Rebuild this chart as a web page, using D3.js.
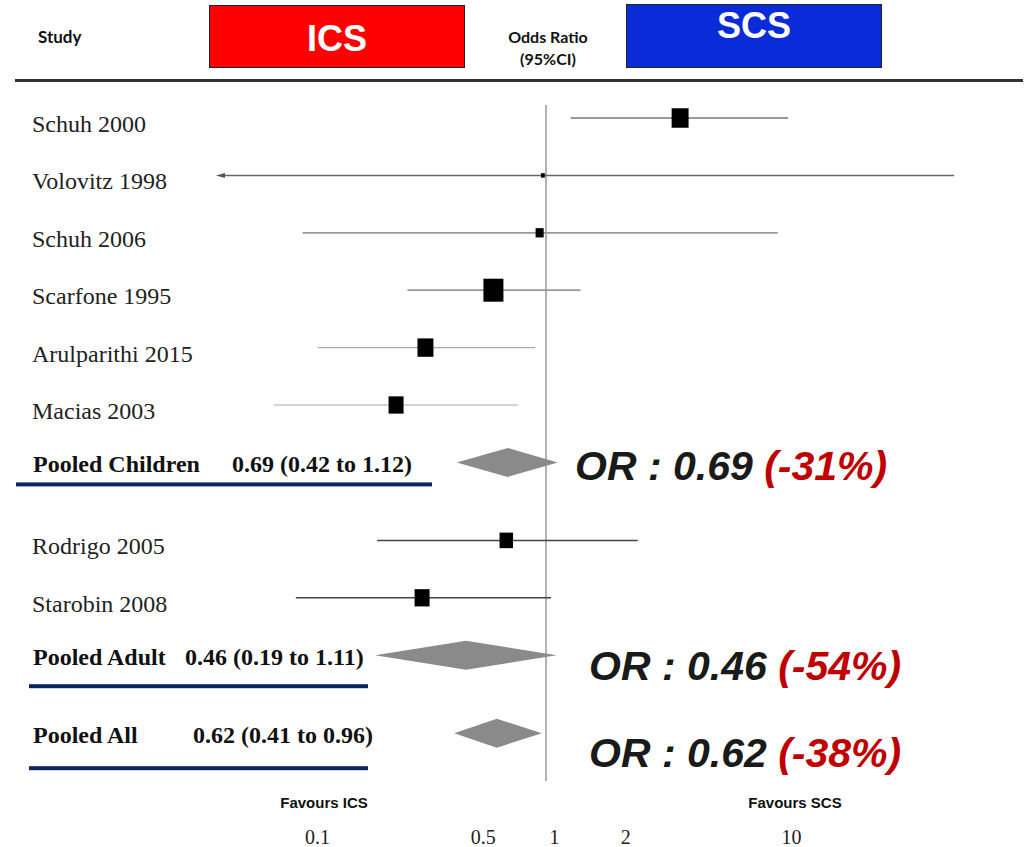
<!DOCTYPE html>
<html><head><meta charset="utf-8">
<script src="https://cdnjs.cloudflare.com/ajax/libs/d3/7.8.5/d3.min.js"></script>
<style>
html,body{margin:0;padding:0;background:#fff;}
svg{display:block;}
</style></head>
<body>
<div id="chart"></div>
<script>
// ---------- data ----------
const studies   = ["Schuh 2000","Volovitz 1998","Schuh 2006","Scarfone 1995","Arulparithi 2015","Macias 2003","Rodrigo 2005","Starobin 2008"];
const studyGroup= ["Children","Children","Children","Children","Children","Children","Adult","Adult"];
const oddsRatio = [3.68, 0.97, 0.94, 0.60, 0.31, 0.233, 0.68, 0.30];
const ciLower   = [1.27, 0.02, 0.094, 0.26, 0.109, 0.071, 0.194, 0.088];
const ciUpper   = [10.5, 52.7, 9.5, 1.40, 0.90, 0.76, 2.44, 1.05];
const weights   = [11.5, 0.6, 2.6, 16, 10.2, 9, 7.3, 9];

const pooledNames = ["Pooled Children","Pooled Adult","Pooled All"];
const pooledGroup = ["Children","Adult","All"];
const pooledOR    = [0.69, 0.46, 0.62];
const pooledLow   = [0.42, 0.19, 0.41];
const pooledHigh  = [1.12, 1.11, 0.96];

const tickValues  = [0.1, 0.5, 1, 2, 10];
const headerLeft  = "ICS";
const headerRight = "SCS";
const favoursLabels = ["Favours ICS","Favours SCS"];

// ---------- layout ----------
const W = 1027, H = 847;
const svg = d3.select("#chart").append("svg").attr("width", W).attr("height", H);

const x = d3.scaleLog().domain([0.1, 10]).range([309, 783]);
const plotMin = 0.0405;        // left edge of plotted region (arrow if CI goes below)
const rowStep = d3.scaleLinear().domain([0, 1]).range([118, 175.4]);
const gapPx = 20.6;
const size = d3.scaleSqrt().domain([0, 16]).range([0, 20]);

// build ordered rows
const rows = [];
let idx = 0, gaps = 0;
["Children","Adult"].forEach((g, gi) => {
  if (gi > 0) gaps++;
  studies.forEach((s, i) => {
    if (studyGroup[i] === g) rows.push({type:"study", i, y: rowStep(idx++) + gaps*gapPx});
  });
  const p = pooledGroup.indexOf(g);
  rows.push({type:"pooled", i:p, y: rowStep(idx++) + gaps*gapPx});
});
gaps++;
rows.push({type:"pooled", i: pooledGroup.indexOf("All"), y: rowStep(idx++) + gaps*gapPx});

const serif = "'Liberation Serif','Times New Roman',serif";
const sans = "'Liberation Sans',Arial,sans-serif";

// ---------- header ----------
svg.append("text").attr("x", 38).attr("y", 43).text("Study")
  .attr("font-family", "Lato, sans-serif").attr("font-weight", 700).attr("font-size", 17).attr("fill", "#111");

svg.append("rect").attr("x", 209.5).attr("y", 5.5).attr("width", 255).attr("height", 62)
  .attr("fill", "#ff0000").attr("stroke", "#222").attr("stroke-width", 1);
svg.append("text").attr("x", 337).attr("y", 51).attr("text-anchor", "middle").text(headerLeft)
  .attr("font-family", sans).attr("font-weight", 700).attr("font-size", 36).attr("fill", "#fff");

svg.append("rect").attr("x", 626.5).attr("y", 4.5).attr("width", 255).attr("height", 63)
  .attr("fill", "#0a2bd8").attr("stroke", "#222").attr("stroke-width", 1);
svg.append("text").attr("x", 754).attr("y", 38).attr("text-anchor", "middle").text(headerRight)
  .attr("font-family", sans).attr("font-weight", 700).attr("font-size", 36).attr("fill", "#fff");

svg.append("text").attr("x", 548).attr("y", 43).attr("text-anchor", "middle").text("Odds Ratio")
  .attr("font-family", "Lato, sans-serif").attr("font-weight", 700).attr("font-size", 16).attr("fill", "#111");
svg.append("text").attr("x", 548).attr("y", 65).attr("text-anchor", "middle").text("(95%CI)")
  .attr("font-family", "Lato, sans-serif").attr("font-weight", 700).attr("font-size", 16).attr("fill", "#111");

svg.append("line").attr("x1", 15).attr("x2", 1023).attr("y1", 80.5).attr("y2", 80.5)
  .attr("stroke", "#333").attr("stroke-width", 3);

// ---------- reference line ----------
svg.append("line").attr("x1", x(1)).attr("x2", x(1)).attr("y1", 105).attr("y2", 781)
  .attr("stroke", "#999").attr("stroke-width", 1.5);

// ---------- study rows ----------
const studyRows = rows.filter(r => r.type === "study");
const sg = svg.append("g");
studyRows.forEach(r => {
  const i = r.i;
  const adult = studyGroup[i] === "Adult";
  const clipped = ciLower[i] < plotMin;
  const lo = Math.max(ciLower[i], plotMin);
  const col = adult ? "#444" : (i === 1 ? "#666" : (i >= 4 ? "#aaa" : "#999"));
  sg.append("line")
    .attr("x1", x(lo) + (clipped ? 4 : 0)).attr("x2", x(ciUpper[i]))
    .attr("y1", r.y).attr("y2", r.y)
    .attr("stroke", col)
    .attr("stroke-width", adult ? 1.5 : (i >= 4 ? 1.2 : (i === 1 ? 1.5 : 1.8)));
  if (clipped) {
    const x0 = x(lo);
    sg.append("path").attr("d", `M${x0},${r.y} L${x0 + 9},${r.y - 2.5} L${x0 + 9},${r.y + 2.5} Z`)
      .attr("fill", "#555");
  }
  const s = size(weights[i]);
  const h = s * 1.15;
  sg.append("rect").attr("x", x(oddsRatio[i]) - s/2).attr("y", r.y - h/2)
    .attr("width", s).attr("height", h).attr("fill", "#000");
  sg.append("text").attr("x", 32).attr("y", r.y + 14).text(studies[i])
    .attr("font-family", serif).attr("font-size", 24).attr("fill", "#222");
});

// ---------- pooled rows ----------
const valueX = [232, 185, 193];
const barX = [[16, 432], [29, 368], [29, 368]];
const barDy = [20, 29, 33];
const annX = [575, 589, 589];
const annDy = [18, 25, 34];
const pooledRows = rows.filter(r => r.type === "pooled");
pooledRows.forEach(r => {
  const i = r.i;
  const hh = 14.5;
  const pts = [[x(pooledLow[i]), r.y], [x(pooledOR[i]), r.y - hh], [x(pooledHigh[i]), r.y], [x(pooledOR[i]), r.y + hh]];
  svg.append("path").attr("d", d3.line()(pts) + "Z").attr("fill", "#8a8a8a");
  svg.append("text").attr("x", 33).attr("y", r.y + 10).text(pooledNames[i])
    .attr("font-family", serif).attr("font-weight", 700).attr("font-size", 24).attr("fill", "#111");
  svg.append("text").attr("x", valueX[i]).attr("y", r.y + 10)
    .text(`${pooledOR[i].toFixed(2)} (${pooledLow[i].toFixed(2)} to ${pooledHigh[i].toFixed(2)})`)
    .attr("font-family", serif).attr("font-weight", 700).attr("font-size", 24).attr("fill", "#111");
  svg.append("rect").attr("x", barX[i][0]).attr("y", r.y + barDy[i])
    .attr("width", barX[i][1] - barX[i][0]).attr("height", 4).attr("fill", "#0d2463");
  const t = svg.append("text").attr("x", annX[i]).attr("y", r.y + annDy[i])
    .attr("font-family", sans).attr("font-weight", 700).attr("font-style", "italic").attr("font-size", 41);
  t.append("tspan").attr("fill", "#1a1a1a").text(`OR : ${pooledOR[i].toFixed(2)} `);
  t.append("tspan").attr("fill", "#c00000").text(`(${Math.round((pooledOR[i] - 1) * 100)}%)`);
});

// ---------- axis ----------
const ax = svg.append("g").attr("transform", "translate(0,827)")
  .call(d3.axisBottom(x).tickValues(tickValues).tickSize(0).tickFormat(d => String(d)));
ax.select(".domain").remove();
ax.selectAll("text").attr("font-family", serif).attr("font-size", 20).attr("fill", "#222").attr("dx", 8);

svg.append("text").attr("x", 324).attr("y", 808).attr("text-anchor", "middle").text(favoursLabels[0])
  .attr("font-family", sans).attr("font-weight", 700).attr("font-size", 15).attr("fill", "#111");
svg.append("text").attr("x", 795).attr("y", 808).attr("text-anchor", "middle").text(favoursLabels[1])
  .attr("font-family", sans).attr("font-weight", 700).attr("font-size", 15).attr("fill", "#111");
</script>
</body></html>
